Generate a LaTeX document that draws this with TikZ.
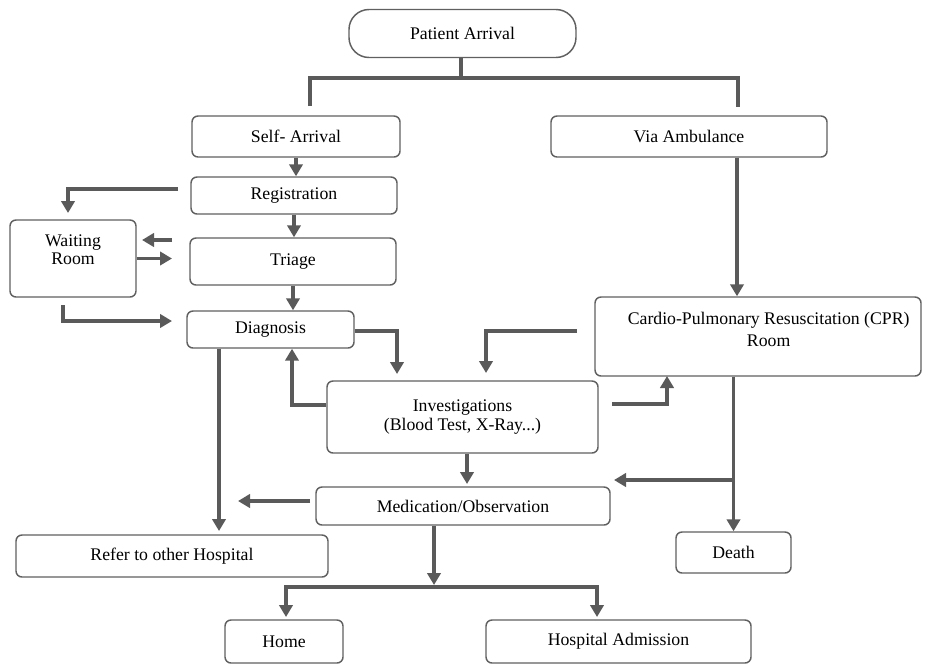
\documentclass[tikz,border=0pt]{standalone}
\usepackage{fontspec}
\setmainfont{Liberation Serif}
\usetikzlibrary{arrows.meta}
\definecolor{ln}{HTML}{5A5A5A}
\definecolor{bd}{HTML}{606060}
\begin{document}
\begin{tikzpicture}[x=0.75pt,y=-0.75pt,
  box/.style 2 args={draw=bd, line width=1.1pt, rounded corners=4.5pt,
    minimum width=#1*0.75pt, minimum height=#2*0.75pt, inner sep=0pt,
    align=center, font=\fontsize{13.3}{13.6}\selectfont},
  link/.style={draw=ln, line width=2.6pt},
  arr/.style={link, -{Triangle[length=9pt,width=10pt]}},
]
\useasboundingbox (0,0) rectangle (934,664);

% nodes
\node[box={227}{48}, rounded corners=15pt] (pa) at (462.5,33.5) {Patient Arrival};
\node[box={208}{41}] (sa) at (296,136.5) {Self- Arrival};
\node[box={276}{41}] (va) at (689,136.5) {Via Ambulance};
\node[box={206}{37}] (reg) at (294,195.5) {Registration};
\node[box={126}{77}] (wr) at (73,258.5) {Waiting\\Room\\~};
\node[box={206}{47}] (tri) at (293,261.5) {Triage};
\node[box={167}{37}] (dia) at (270.5,329.5) {Diagnosis};
\node[box={271}{72}] (inv) at (462.5,417) {Investigations\\(Blood Test, X-Ray...)};
\node[box={326}{79}, font=\fontsize{13.3}{16.5}\selectfont] (cpr) at (758,336.5) {\hspace*{16pt}Cardio-Pulmonary Resuscitation (CPR)\\\hspace*{16pt}Room\\[-6pt]~};
\node[box={294}{38}] (med) at (463,506) {Medication/Observation};
\node[box={312}{42}] (ref) at (172,556) {Refer to other Hospital};
\node[box={115}{41}] (death) at (733.5,552.5) {Death};
\node[box={118}{43}] (home) at (284,641.5) {Home};
\node[box={265}{43}] (adm) at (618.5,641.5) {Hospital Admission};

% free ends
\coordinate (b1) at (461,78);
\coordinate (bl) at (310,106);
\coordinate (br) at (738,107);
\coordinate (r1) at (178,189);
\coordinate (r2) at (68,213);
\coordinate (t1) at (172,240);
\coordinate (t2) at (142,240);
\coordinate (w1) at (172,258.5);
\coordinate (w2) at (63,305);
\coordinate (w3) at (172,321);
\coordinate (d1) at (397,374);
\coordinate (c1) at (577,331);
\coordinate (c2) at (486,373);
\coordinate (i1) at (612,404);
\coordinate (i2) at (667,376);
\coordinate (k1) at (735,480);
\coordinate (k2) at (614,480);
\coordinate (m1) at (310,501);
\coordinate (m2) at (238,501);
\coordinate (m3) at (434,587);
\coordinate (h1) at (286,617);
\coordinate (h2) at (597,617);

% connectors
\draw[link] (pa.south -| b1) -- (b1);
\draw[link] (bl) |- (b1) -| (br);
\draw[arr] (sa.south) -- (sa.south |- reg.north);
\draw[arr] (r1) -| (r2);
\draw[arr] (reg.south) -- (reg.south |- tri.north);
\draw[arr] (t1) -- (t2);
\draw[arr] (wr.east) -- (w1);
\draw[arr] (tri.south) -- (tri.south |- dia.north);
\draw[arr] (w2) |- (w3);
\draw[arr] (dia.east |- 0,331) -| (d1);
\draw[arr] (inv.west |- 0,405) -| (dia.south -| 292,0);
\draw[arr] (dia.south -| 219,0) -- (219,531);
\draw[arr] (va.south -| 737,0) -- (cpr.north -| 737,0);
\draw[arr] (c1) -| (c2);
\draw[arr] (i1) -| (i2);
\draw[arr] (cpr.south -| death.north) -- (death.north);
\draw[arr] (k1) -- (k2);
\draw[arr] (inv.south -| 467,0) -- (467,484);
\draw[arr] (m1) -- (m2);
\draw[arr] (med.south -| m3) -- ([yshift=1.5pt]m3);
\draw[arr] (m3) -| (h1);
\draw[arr] (m3) -| (h2);
\end{tikzpicture}
\end{document}
